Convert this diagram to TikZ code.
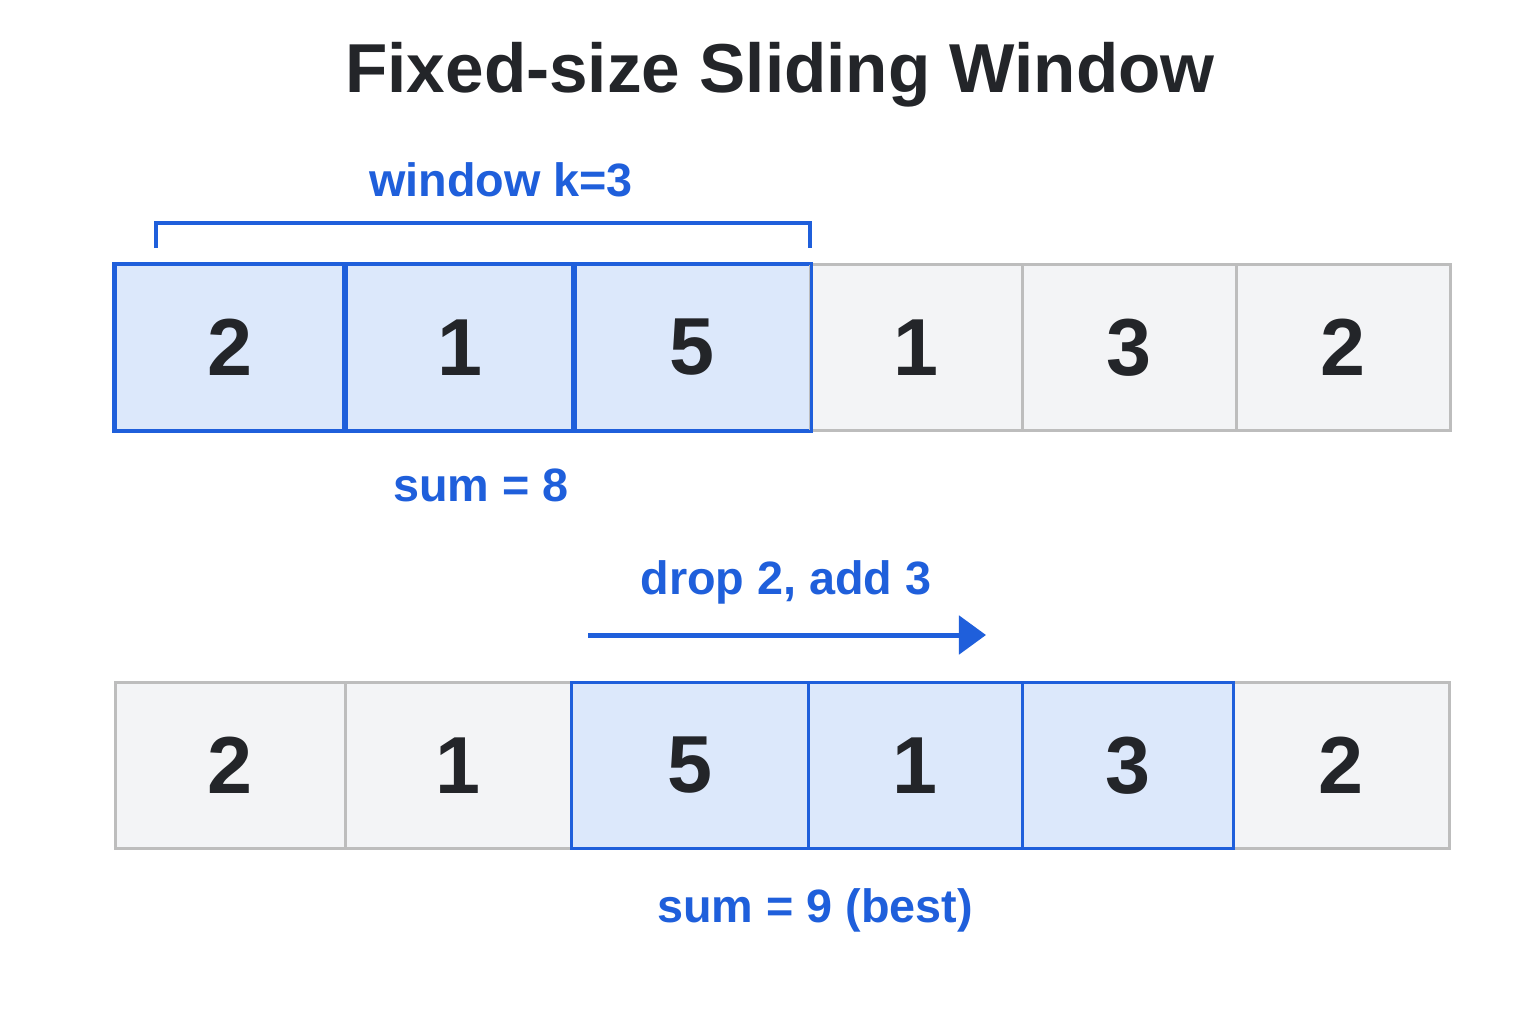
\documentclass[tikz,border=0pt]{standalone}
\usepackage{fontspec}
\setmainfont{Liberation Sans}
\usetikzlibrary{arrows.meta}
\definecolor{winblue}{HTML}{1F5FDB}
\definecolor{winfill}{HTML}{DCE8FB}
\definecolor{cellfill}{HTML}{F3F4F6}
\definecolor{cellline}{HTML}{BDBDBD}
\definecolor{titlegray}{HTML}{232529}
\begin{document}
\begin{tikzpicture}[x=0.01cm, y=-0.01cm,
  cell/.style = {draw=cellline, fill=cellfill, line width=0.03cm, inner sep=0pt,
    minimum height=1.65cm, font=\fontsize{23}{26}\selectfont\bfseries, text=titlegray},
  hot/.style = {cell, draw=winblue, fill=winfill},
  lbl/.style = {text=winblue, font=\fontsize{13.3}{16}\selectfont\bfseries}]
\useasboundingbox[fill=white] (0,0) rectangle (1536,1024);
\node[font=\fontsize{19.7}{23}\selectfont\bfseries, text=titlegray] (title) at (780,75) {Fixed-size Sliding Window};
% top row
\foreach \i/\l/\r/\v/\s in {1/115/345/2/hot, 2/345/574/1/hot, 3/574/810/5/hot, 4/810/1022/1/cell, 5/1022/1236/3/cell, 6/1236/1450/2/cell}
  \node[\s, minimum width={(\r-\l)*0.01cm}] (t\i) at ({(\l+\r)/2},347.5) {\v};
\foreach \i in {1,2,3}
  \draw[winblue, line width=0.03cm] (t\i.north west) rectangle (t\i.south east);
% bottom row
\foreach \i/\l/\r/\v/\s in {1/115/345/2/cell, 2/345/571/1/cell, 6/1233/1449/2/cell, 3/571/808/5/hot, 4/808/1022/1/hot, 5/1022/1233/3/hot}
  \node[\s, minimum width={(\r-\l)*0.01cm}] (b\i) at ({(\l+\r)/2},765.5) {\v};
% bracket
\coordinate (bl) at (156,248);
\coordinate (br) at (810,248);
\draw[winblue, line width=0.035cm] (bl) -- ++(0,-25) -| (br);
\node[lbl] (k) at (501,180) {window k=3};
\node[lbl] (s1) at (481,485) {sum = 8};
% slide
\node[lbl] (drop) at (786,582) {drop 2, add 3};
\coordinate (from) at (588,635);
\coordinate (to) at (986,635);
\draw[winblue, line width=0.05cm, -{Triangle[length=0.27cm, width=0.38cm]}] (from) -- (to);
\node[lbl] (s2) at (815,910) {sum = 9 (best)};
\end{tikzpicture}
\end{document}
